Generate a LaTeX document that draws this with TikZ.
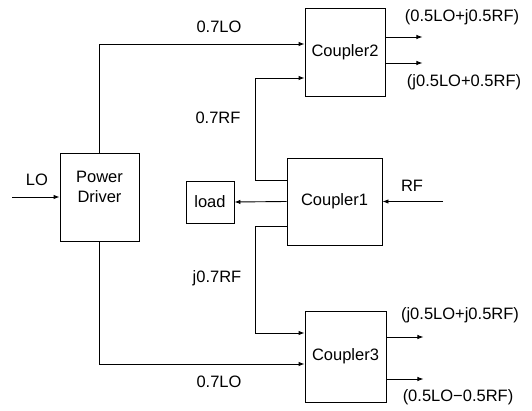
\documentclass[tikz,border=0pt]{standalone}
\usepackage{fontspec}
\setmainfont{Liberation Sans}
\usetikzlibrary{arrows.meta}
\begin{document}
\begin{tikzpicture}[x=1pt,y=-1pt,
  every node/.style={font=\fontsize{16.5}{20}\selectfont},
  blk/.style={draw,line width=0.9pt,inner sep=0pt,align=center},
  arr/.style={line width=0.9pt,-{Latex[length=6pt,width=4.5pt]}},
  lbl/.style={inner sep=0pt}]
\useasboundingbox (0,0) rectangle (532,411);
% blocks
\node[blk,minimum width=79pt,minimum height=88pt,
  label={[lbl,align=center,yshift=10pt]center:Power\\Driver}] (pd) at (99.5,197) {};
\node[blk,minimum width=80pt,minimum height=88pt] (c2) at (345,52) {Coupler2};
\node[blk,minimum width=95pt,minimum height=87pt] (c1) at (334.5,201.5) {Coupler1};
\node[blk,minimum width=81pt,minimum height=91pt] (c3) at (345.5,356.5) {Coupler3};
\node[blk,minimum width=48pt,minimum height=42pt] (load) at (210,202) {load};
% free ends
\coordinate (lo) at (12,197);
\coordinate (rf) at (443,201.5);
% connectors
\draw[arr] (lo) -- (pd.west);
\draw[arr] (pd.north) |- ([yshift=8pt]c2.west);
\draw[arr] (pd.south) |- ([yshift=-7.5pt]c3.west);
\draw[arr] ([yshift=21.5pt]c1.west) -- ++(-31,0) |- ([yshift=-26pt]c2.west);
\draw[arr] ([yshift=-24.5pt]c1.west) -- ++(-31,0) |- ([yshift=23.5pt]c3.west);
\draw[arr] (c1.west) -- (load.east);
\draw[arr] (rf) -- (c1.east);
\draw[arr] ([yshift=15pt]c2.east) -- ++(37,0);
\draw[arr] ([yshift=-11pt]c2.east) -- ++(37,0);
\draw[arr] ([yshift=19.5pt]c3.east) -- ++(37,0);
\draw[arr] ([yshift=-22.5pt]c3.east) -- ++(37,0);
% labels
\node[lbl] (t1) at (219,27) {0.7LO};
\node[lbl] (t2) at (218,118) {0.7RF};
\node[lbl] (t3) at (217,278) {j0.7RF};
\node[lbl] (t4) at (219,382) {0.7LO};
\node[lbl] (t5) at (37,180) {LO};
\node[lbl] (t6) at (412,186) {RF};
\node[lbl] (o1) at (462,17) {(0.5LO+j0.5RF)};
\node[lbl] (o2) at (464,82) {(j0.5LO+0.5RF)};
\node[lbl] (o3) at (460,315) {(j0.5LO+j0.5RF)};
\node[lbl] (o4) at (458,397) {(0.5LO\char"2212 0.5RF)};
\end{tikzpicture}
\end{document}
